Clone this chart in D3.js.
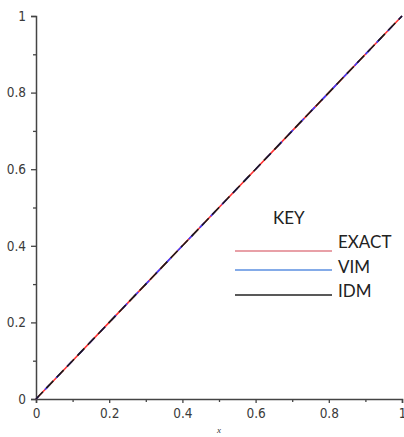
<!DOCTYPE html>
<html>
<head>
<meta charset="utf-8">
<script src="https://cdn.jsdelivr.net/npm/d3@7"></script>
<style>
  body { margin: 0; background: #fff; }
  svg { display: block; }
</style>
</head>
<body>
<div id="chart"></div>
<script>
// Series: exact solution and both approximations (u = x)
const xs = [0, 0.1, 0.2, 0.3, 0.4, 0.5, 0.6, 0.7, 0.8, 0.9, 1];
const exactVals = [0, 0.1, 0.2, 0.3, 0.4, 0.5, 0.6, 0.7, 0.8, 0.9, 1];
const vimVals = [0, 0.1, 0.2, 0.3, 0.4, 0.5, 0.6, 0.7, 0.8, 0.9, 1];
const idmVals = [0, 0.1, 0.2, 0.3, 0.4, 0.5, 0.6, 0.7, 0.8, 0.9, 1];
const majorTicks = [0, 0.2, 0.4, 0.6, 0.8, 1];
const minorTicks = [0.1, 0.3, 0.5, 0.7, 0.9];
const keyNames = ['EXACT', 'VIM', 'IDM'];
const keyColors = ['#e0808a', '#5b8fe0', '#222222'];

const width = 404;
const height = 437;

const svg = d3.select('#chart')
    .append('svg')
    .attr('width', width)
    .attr('height', height);

const x = d3.scaleLinear().domain([0, 1]).range([36, 402]);
const y = d3.scaleLinear().domain([0, 1]).range([399, 16]);

const axisColor = '#444';
const labelFont = '"DejaVu Sans Condensed", "Liberation Sans", sans-serif';

// x axis
const gx = svg.append('g').attr('transform', `translate(0,${y(0)})`);
gx.call(d3.axisBottom(x).tickValues(majorTicks).tickSize(4).tickPadding(5)
    .tickFormat(d => d3.format('')(d)));
gx.append('g').call(d3.axisBottom(x).tickValues(minorTicks).tickSize(3).tickFormat(''))
    .select('.domain').remove();

// y axis
const gy = svg.append('g').attr('transform', `translate(${x(0)},0)`);
gy.call(d3.axisLeft(y).tickValues(majorTicks).tickSize(5).tickPadding(5)
    .tickFormat(d => d3.format('')(d)));
gy.append('g').call(d3.axisLeft(y).tickValues(minorTicks).tickSize(3).tickFormat(''))
    .select('.domain').remove();

svg.selectAll('.domain').attr('stroke', axisColor).attr('stroke-width', 1.5);
svg.selectAll('.tick line').attr('stroke', axisColor).attr('stroke-width', 1.3);
svg.selectAll('.tick text')
    .attr('fill', '#3a3a3a')
    .style('font-family', labelFont)
    .style('font-size', '13.5px');

// x label
svg.append('text')
    .attr('x', x(0.5))
    .attr('y', 433)
    .attr('text-anchor', 'middle')
    .style('font-family', '"Liberation Serif", serif')
    .style('font-style', 'italic')
    .style('font-size', '9px')
    .attr('fill', '#333')
    .text('x');

// lines
const line = d3.line().x(d => x(d[0])).y(d => y(d[1]));
const series = [exactVals, vimVals, idmVals];
const dashes = [null, '7 9', '10 5'];
const offsets = [0, 3, 0];
series.forEach((vals, i) => {
    svg.append('path')
        .datum(xs.map((v, j) => [v, vals[j]]))
        .attr('d', line)
        .attr('fill', 'none')
        .attr('stroke', i === 0 ? '#ff3030' : (i === 1 ? '#3a3aff' : '#1a1a1a'))
        .attr('stroke-width', 1.6)
        .attr('stroke-dasharray', dashes[i])
        .attr('stroke-dashoffset', offsets[i]);
});

// key
const keyFont = 'Lato, "Open Sans", sans-serif';
svg.append('text')
    .attr('x', 273)
    .attr('y', 224)
    .style('font-family', keyFont)
    .style('font-size', '17px')
    .attr('fill', '#222')
    .text('KEY');

const keyLineY = [251, 270, 295];
const keyTextY = [248, 273, 297];
keyNames.forEach((name, i) => {
    svg.append('line')
        .attr('x1', 235).attr('x2', 332)
        .attr('y1', keyLineY[i]).attr('y2', keyLineY[i])
        .attr('stroke', keyColors[i])
        .attr('stroke-width', 1.3);
    svg.append('text')
        .attr('x', 338)
        .attr('y', keyTextY[i])
        .style('font-family', keyFont)
        .style('font-size', '17px')
        .attr('fill', '#222')
        .text(name);
});
</script>
</body>
</html>
